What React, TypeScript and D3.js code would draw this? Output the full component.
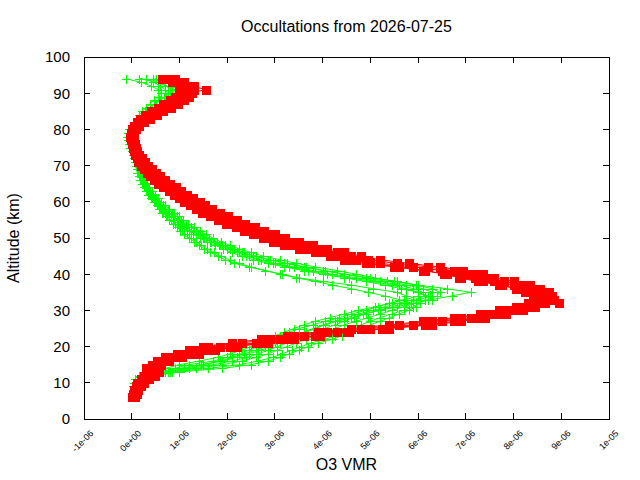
import * as d3 from "d3";
import React, { useRef, useEffect } from "react";

const width = 640;
const height = 480;
const margin = { top: 57, right: 31, bottom: 61, left: 84 };

// altitude grid shared by all profiles (km)
const altitudes = [
	6, 7, 8, 9, 10, 11, 12, 13, 14, 15, 16, 17, 18, 19, 20, 21, 22, 23, 24, 25,
	26, 27, 28, 29, 30, 31, 32, 33, 34, 35, 36, 37, 38, 39, 40, 41, 42, 43, 44,
	45, 46, 47, 48, 49, 50, 51, 52, 53, 54, 55, 56, 57, 58, 59, 60, 61, 62, 63,
	64, 65, 66, 67, 68, 69, 70, 71, 72, 73, 74, 75, 76, 77, 78, 79, 80, 81, 82,
	83, 84, 85, 86, 87, 88, 89, 90, 91, 92, 93, 94,
];

// O3 VMR in units of 1e-06, red profiles
const red1 = [
	0.03, 0.05, 0.07, 0.1, 0.14, 0.2, 0.26, 0.33, 0.42, 0.55, 0.7, 0.88, 1.15,
	1.45, 1.85, 2.6, 3.1, 3.6, 4.3, 5.0, 5.9, 6.5, 7.1, 7.6, 7.95, 8.25, 8.5,
	8.75, 8.65, 8.5, 8.3, 8.0, 7.6, 7.2, 7.0, 6.5, 5.9, 5.2, 4.7, 4.4, 4.1, 3.75,
	3.45, 3.15, 2.95, 2.75, 2.55, 2.35, 2.15, 1.98, 1.8, 1.62, 1.5, 1.36, 1.25,
	1.12, 1.02, 0.9, 0.8, 0.68, 0.58, 0.48, 0.4, 0.32, 0.26, 0.2, 0.15, 0.11,
	0.08, 0.05, 0.03, 0.01, 0.0, 0.0, 0.02, 0.06, 0.12, 0.22, 0.32, 0.45, 0.6,
	0.72, 0.85, 0.98, 1.05, 1.1, 1.15, 0.85, 0.64,
];
const red2 = [
	0.0, 0.02, 0.05, 0.08, 0.12, 0.28, 0.4, 0.5, 0.58, 0.62, 0.78, 1.05, 1.4,
	1.75, 2.2, 2.75, 3.3, 3.95, 4.55, 5.4, 6.3, 6.9, 7.4, 7.85, 8.2, 8.45, 8.95,
	8.85, 8.4, 8.25, 8.05, 7.75, 7.35, 6.9, 6.55, 6.15, 5.6, 5.0, 4.55, 4.25,
	3.95, 3.6, 3.3, 3.05, 2.85, 2.62, 2.42, 2.25, 2.05, 1.88, 1.7, 1.55, 1.4,
	1.28, 1.16, 1.05, 0.94, 0.84, 0.72, 0.62, 0.52, 0.44, 0.36, 0.29, 0.22, 0.17,
	0.12, 0.09, 0.06, 0.04, 0.02, 0.0, -0.02, 0.0, 0.05, 0.1, 0.18, 0.3, 0.42,
	0.56, 0.7, 0.85, 0.98, 1.1, 1.2, 1.56, 1.25, 1.0, 0.85,
];
const red3 = [
	0.05, 0.08, 0.12, 0.15, 0.18, 0.22, 0.3, 0.42, 0.5, 0.52, 0.6, 0.8, 1.05,
	1.3, 1.6, 2.3, 2.9, 3.4, 4.1, 4.8, 5.6, 6.3, 6.9, 7.45, 7.8, 8.15, 8.4, 8.55,
	8.8, 8.6, 8.4, 8.2, 7.8, 7.4, 7.2, 6.75, 6.2, 5.55, 4.95, 4.6, 4.3, 3.95,
	3.65, 3.35, 3.1, 2.88, 2.68, 2.48, 2.28, 2.1, 1.92, 1.75, 1.6, 1.46, 1.34,
	1.2, 1.1, 0.98, 0.86, 0.75, 0.64, 0.54, 0.45, 0.37, 0.3, 0.24, 0.18, 0.14,
	0.1, 0.07, 0.05, 0.03, 0.02, 0.03, 0.05, 0.12, 0.2, 0.32, 0.45, 0.6, 0.75,
	0.9, 1.05, 1.15, 1.22, 1.28, 1.3, 1.1, 0.9,
];
const red4 = [
	0.02, 0.04, 0.06, 0.09, 0.16, 0.32, 0.48, 0.58, 0.55, 0.45,
	0.52, 0.7, 0.95, 1.2, 1.5, 2.1, 2.7, 3.25, 3.9, 4.6,
	5.4, 6.1, 6.75, 7.3, 7.7, 8.05, 8.3, 8.5, 8.7, 8.75,
	8.55, 8.35, 8.0, 7.6, 7.35, 6.95, 6.45, 5.8, 5.2, 4.8,
	4.45, 4.1, 3.8, 3.5, 3.22, 3.0, 2.78, 2.58, 2.38, 2.2,
	2.02, 1.84, 1.68, 1.54, 1.42, 1.28, 1.16, 1.04, 0.92, 0.8,
	0.7, 0.6, 0.5, 0.42, 0.34, 0.27, 0.21, 0.16, 0.12, 0.09,
	0.06, 0.04, 0.03, 0.05, 0.09, 0.16, 0.26, 0.38, 0.52, 0.66,
	0.82, 0.96, 1.1, 1.2, 1.26, 1.3, 1.22, 0.95, 0.7,
];
const red5 = [
	0.06, 0.1, 0.14, 0.2, 0.26, 0.36, 0.44, 0.38, 0.3, 0.42,
	0.66, 0.95, 1.3, 1.62, 2.05, 2.85, 3.4, 3.85, 4.5, 5.25,
	6.15, 6.75, 7.3, 7.75, 8.1, 8.4, 8.65, 8.6, 8.5, 8.3,
	8.1, 7.7, 7.25, 6.85, 6.6, 6.1, 5.5, 4.9, 4.45, 4.15,
	3.85, 3.5, 3.2, 2.95, 2.75, 2.55, 2.35, 2.18, 1.98, 1.8,
	1.64, 1.48, 1.35, 1.22, 1.1, 0.98, 0.88, 0.78, 0.66, 0.56,
	0.46, 0.38, 0.31, 0.25, 0.19, 0.14, 0.1, 0.07, 0.04, 0.02,
	0.0, -0.02, -0.03, -0.02, 0.0, 0.04, 0.1, 0.18, 0.28, 0.4,
	0.54, 0.66, 0.8, 0.9, 0.98, 1.05, 1.0, 0.9, 0.75,
];

// green profiles
const green1 = [
	0.02, 0.03, 0.04, 0.05, 0.06, 0.1, 0.25, 0.6, 0.9, 1.2, 1.7, 2.0, 2.25, 2.45,
	2.65, 2.8, 2.95, 3.1, 3.3, 3.5, 3.8, 4.05, 4.35, 4.6, 4.9, 5.15, 5.4, 5.75,
	6.0, 6.1, 5.9, 5.6, 5.2, 4.7, 4.2, 3.8, 3.4, 3.0, 2.7, 2.45, 2.25, 2.05, 1.85,
	1.65, 1.5, 1.35, 1.2, 1.1, 1.02, 0.95, 0.82, 0.72, 0.64, 0.56, 0.5, 0.44,
	0.38, 0.33, 0.28, 0.24, 0.2, 0.16, 0.13, 0.11, 0.09, 0.07, 0.05, 0.03, 0.01,
	-0.01, -0.03, -0.05, -0.06, -0.05, -0.02, 0.02, 0.08, 0.15, 0.22, 0.3, 0.4,
	0.5, 0.6, 0.7, 0.75, 0.7, 0.6, 0.45, 0.3,
];
const green2 = [
	0.05, 0.06, 0.08, 0.1, 0.14, 0.22, 0.45, 0.75, 1.1, 1.5, 1.9, 2.2, 2.45, 2.7,
	2.9, 3.1, 3.3, 3.45, 3.65, 3.85, 4.05, 4.3, 4.6, 4.85, 5.2, 5.55, 5.9, 6.3,
	6.7, 7.1, 6.6, 6.0, 5.55, 5.0, 4.45, 4.0, 3.6, 3.2, 2.85, 2.55, 2.3, 2.1,
	1.9, 1.72, 1.56, 1.42, 1.28, 1.16, 1.06, 0.98, 0.88, 0.78, 0.7, 0.62, 0.55,
	0.48, 0.42, 0.36, 0.31, 0.27, 0.23, 0.19, 0.16, 0.13, 0.11, 0.09, 0.06, 0.04,
	0.02, 0.0, -0.02, -0.03, -0.02, 0.01, 0.05, 0.1, 0.18, 0.26, 0.36, 0.48,
	0.6, 0.72, 0.85, 0.95, 1.0, 0.95, 0.85, 0.7, 0.5,
];
const green3 = [
	0.0, 0.01, 0.02, 0.03, 0.04, 0.06, 0.15, 0.4, 0.7, 1.0, 1.4, 1.8, 2.05, 2.3,
	2.5, 2.7, 2.85, 3.0, 3.2, 3.4, 3.6, 3.85, 4.15, 4.45, 4.75, 5.1, 5.45, 5.7,
	5.75, 5.55, 5.05, 4.6, 4.0, 3.5, 3.15, 2.8, 2.45, 2.15, 1.95, 1.8, 1.65,
	1.52, 1.4, 1.3, 1.2, 1.1, 1.02, 0.94, 0.86, 0.78, 0.72, 0.64, 0.58, 0.52,
	0.46, 0.4, 0.35, 0.3, 0.26, 0.22, 0.18, 0.15, 0.12, 0.1, 0.08, 0.06, 0.04,
	0.02, 0.0, -0.03, -0.06, -0.08, -0.1, -0.08, -0.05, 0.0, 0.04, 0.1, 0.16,
	0.22, 0.3, 0.38, 0.46, 0.55, 0.62, 0.55, 0.4, 0.2, -0.12,
];
const green4 = [
	0.1, 0.12, 0.14, 0.16, 0.18, 0.3, 0.55, 0.85, 1.6, 2.25, 2.65, 2.95, 3.15,
	3.35, 3.55, 3.75, 4.05, 4.25, 4.4, 4.6, 4.8, 5.0, 5.2, 5.45, 5.7, 5.9, 6.05,
	6.15, 6.2, 6.0, 5.65, 5.3, 4.9, 4.45, 4.0, 3.6, 3.2, 2.85, 2.55, 2.3, 2.1,
	1.92, 1.75, 1.58, 1.42, 1.28, 1.16, 1.05, 0.96, 0.88, 0.78, 0.7, 0.62, 0.54,
	0.48, 0.42, 0.36, 0.31, 0.27, 0.22, 0.18, 0.15, 0.12, 0.1, 0.08, 0.06, 0.04,
	0.02, 0.0, -0.02, -0.04, -0.06, -0.07, -0.06, -0.03, 0.01, 0.06, 0.12, 0.2,
	0.28, 0.38, 0.48, 0.58, 0.68, 0.8, 0.9, 0.75, 0.55, 0.16,
];
const green5 = [
	0.03, 0.04, 0.06, 0.08, 0.1, 0.16, 0.35, 0.7, 1.2, 1.7, 2.1, 2.4, 2.65, 2.85,
	3.05, 3.25, 3.45, 3.65, 3.85, 4.05, 4.25, 4.45, 4.65, 4.9, 5.15, 5.45, 5.75,
	6.05, 6.25, 6.3, 6.1, 5.75, 5.35, 4.9, 4.45, 4.05, 3.65, 3.25, 2.9, 2.6,
	2.35, 2.15, 1.95, 1.78, 1.62, 1.48, 1.35, 1.24, 1.14, 1.04, 0.94, 0.84, 0.75,
	0.66, 0.58, 0.51, 0.45, 0.39, 0.34, 0.29, 0.25, 0.21, 0.18, 0.15, 0.12, 0.1,
	0.08, 0.06, 0.04, 0.02, 0.0, -0.02, -0.03, -0.01, 0.03, 0.08, 0.14, 0.22,
	0.32, 0.44, 0.56, 0.7, 0.82, 0.94, 1.02, 1.1, 0.95, 0.75, 0.45,
];
const green6 = [
	0.08, 0.1, 0.12, 0.11, 0.14, 0.2, 0.5, 1.0, 1.9, 2.5,
	2.85, 3.1, 3.3, 3.5, 3.7, 3.9, 4.2, 4.4, 4.6, 4.8,
	5.0, 5.2, 5.4, 5.6, 5.8, 5.95, 5.85, 5.6, 5.3, 4.95,
	4.6, 4.2, 3.85, 3.45, 3.1, 2.8, 2.5, 2.25, 2.05, 1.88,
	1.72, 1.58, 1.46, 1.35, 1.25, 1.15, 1.06, 0.98, 0.9, 0.82,
	0.74, 0.66, 0.6, 0.54, 0.48, 0.42, 0.37, 0.32, 0.28, 0.24,
	0.2, 0.17, 0.14, 0.12, 0.1, 0.08, 0.06, 0.04, 0.02, 0.0,
	-0.02, -0.04, -0.05, -0.04, -0.01, 0.04, 0.1, 0.18, 0.28, 0.38,
	0.5, 0.62, 0.74, 0.85, 0.92, 0.85, 0.7, 0.6, 0.5,
];
const green7 = [
	0.01, 0.02, 0.03, 0.04, 0.08, 0.14, 0.3, 0.55, 1.0, 1.45,
	1.85, 2.1, 2.35, 2.6, 2.8, 3.0, 3.2, 3.4, 3.6, 3.8,
	4.0, 4.25, 4.5, 4.75, 5.05, 5.3, 5.6, 5.9, 6.15, 6.0,
	5.75, 5.45, 5.05, 4.55, 4.1, 3.7, 3.3, 2.95, 2.65, 2.4,
	2.2, 2.0, 1.82, 1.66, 1.52, 1.38, 1.25, 1.14, 1.04, 0.96,
	0.86, 0.76, 0.68, 0.6, 0.53, 0.47, 0.41, 0.35, 0.3, 0.26,
	0.22, 0.18, 0.15, 0.12, 0.1, 0.08, 0.06, 0.04, 0.02, 0.0,
	-0.02, -0.04, -0.05, -0.03, 0.01, 0.06, 0.12, 0.2, 0.3, 0.42,
	0.55, 0.68, 0.8, 0.9, 0.98, 1.05, 1.1, 0.9, 0.16,
];
const green8 = [
	0.04, 0.05, 0.07, 0.09, 0.12, 0.18, 0.4, 0.8, 1.35, 1.9,
	2.3, 2.6, 2.85, 3.05, 3.25, 3.45, 3.65, 3.85, 4.05, 4.25,
	4.45, 4.7, 4.95, 5.2, 5.45, 5.7, 5.95, 6.2, 6.4, 6.45,
	6.3, 5.95, 5.5, 5.1, 4.7, 4.3, 3.85, 3.45, 3.1, 2.75,
	2.5, 2.25, 2.05, 1.86, 1.7, 1.55, 1.42, 1.3, 1.18, 1.08,
	0.98, 0.88, 0.78, 0.7, 0.62, 0.55, 0.48, 0.42, 0.36, 0.31,
	0.27, 0.23, 0.19, 0.16, 0.13, 0.11, 0.09, 0.07, 0.05, 0.03,
	0.01, -0.01, -0.02, 0.0, 0.04, 0.09, 0.16, 0.25, 0.35, 0.48,
	0.62, 0.76, 0.88, 1.0, 1.08, 1.02, 0.9, 0.75, 0.55,
];

const redProfiles = [red1, red2, red3, red4, red5];
const greenProfiles = [green1, green2, green3, green4, green5, green6, green7, green8];

const xTicks = [-1, 0, 1, 2, 3, 4, 5, 6, 7, 8, 9, 10];
const xTickLabels = [
	"-1e-06", "0e+00", "1e-06", "2e-06", "3e-06", "4e-06",
	"5e-06", "6e-06", "7e-06", "8e-06", "9e-06", "1e-05",
];
const yTicks = [0, 10, 20, 30, 40, 50, 60, 70, 80, 90, 100];

const font = "'Liberation Sans', Arial, sans-serif";

const App = () => {
	const ref = useRef(null);

	useEffect(() => {
		if (!ref.current) return;
		const svg = d3.select(ref.current);
		svg.selectAll("*").remove();

		const x = d3
			.scaleLinear()
			.domain([-1, 10])
			.range([margin.left, width - margin.right]);
		const y = d3
			.scaleLinear()
			.domain([0, 100])
			.range([height - margin.bottom, margin.top]);

		const x0 = margin.left;
		const x1 = width - margin.right;
		const y0 = height - margin.bottom;
		const y1 = margin.top;
		const tick = 6;

		const axes = svg.append("g").attr("stroke", "#000").attr("shape-rendering", "crispEdges");

		// ticks on all four sides, pointing inwards
		xTicks.forEach((t) => {
			axes.append("line").attr("x1", x(t)).attr("x2", x(t)).attr("y1", y0).attr("y2", y0 - tick);
			axes.append("line").attr("x1", x(t)).attr("x2", x(t)).attr("y1", y1).attr("y2", y1 + tick);
		});
		yTicks.forEach((t) => {
			axes.append("line").attr("x1", x0).attr("x2", x0 + tick).attr("y1", y(t)).attr("y2", y(t));
			axes.append("line").attr("x1", x1).attr("x2", x1 - tick).attr("y1", y(t)).attr("y2", y(t));
		});

		const line = d3
			.line<number>()
			.x((d) => x(d))
			.y((_d, i) => y(altitudes[i]));

		const plot = svg.append("g");

		// green profiles: lines with plus markers
		greenProfiles.forEach((p) => {
			plot.append("path").attr("d", line(p)).attr("fill", "none").attr("stroke", "#00ff00").attr("stroke-width", 1);
			const g = plot.append("g").attr("stroke", "#00ff00").attr("stroke-width", 1).attr("shape-rendering", "crispEdges");
			p.forEach((v, i) => {
				const cx = Math.round(x(v)) + 0.5;
				const cy = Math.round(y(altitudes[i])) + 0.5;
				g.append("line").attr("x1", cx - 4.5).attr("x2", cx + 4.5).attr("y1", cy).attr("y2", cy);
				g.append("line").attr("x1", cx).attr("x2", cx).attr("y1", cy - 4.5).attr("y2", cy + 4.5);
			});
		});

		// red profiles: lines with filled squares
		redProfiles.forEach((p) => {
			plot.append("path").attr("d", line(p)).attr("fill", "none").attr("stroke", "#ff0000").attr("stroke-width", 1);
			plot
				.append("g")
				.selectAll("rect")
				.data(p)
				.enter()
				.append("rect")
				.attr("x", (d) => Math.round(x(d)) - 4)
				.attr("y", (_d, i) => Math.round(y(altitudes[i])) - 4)
				.attr("width", 9)
				.attr("height", 9)
				.attr("fill", "#ff0000")
				.attr("shape-rendering", "crispEdges");
		});

		// frame
		svg
			.append("rect")
			.attr("x", x0)
			.attr("y", y1)
			.attr("width", x1 - x0)
			.attr("height", y0 - y1)
			.attr("fill", "none")
			.attr("stroke", "#000")
			.attr("shape-rendering", "crispEdges");

		// tick labels
		const labels = svg.append("g").attr("font-family", font).attr("fill", "#000");
		yTicks.forEach((t) => {
			labels
				.append("text")
				.attr("x", x0 - 14)
				.attr("y", y(t))
				.attr("dy", "0.36em")
				.attr("text-anchor", "end")
				.attr("font-size", 15)
				.text(String(t));
		});
		xTicks.forEach((t, i) => {
			const lx = x(t) + 10;
			const ly = y0 + 15;
			labels
				.append("text")
				.attr("transform", `translate(${lx},${ly}) rotate(-45)`)
				.attr("text-anchor", "end")
				.attr("font-size", 9)
				.text(xTickLabels[i]);
		});

		// titles
		labels
			.append("text")
			.attr("x", (x0 + x1) / 2)
			.attr("y", 32)
			.attr("text-anchor", "middle")
			.attr("font-size", 16)
			.text("Occultations from 2026-07-25");
		labels
			.append("text")
			.attr("x", (x0 + x1) / 2)
			.attr("y", 470)
			.attr("text-anchor", "middle")
			.attr("font-size", 16)
			.text("O3 VMR");
		labels
			.append("text")
			.attr("transform", `translate(19,${(y0 + y1) / 2}) rotate(-90)`)
			.attr("text-anchor", "middle")
			.attr("font-size", 16)
			.text("Altitude (km)");
	}, []);

	return (
		<svg
			ref={ref}
			width={width}
			height={height}
			style={{ position: "absolute", left: 0, top: 0, background: "white" }}
		/>
	);
};

export default App;
